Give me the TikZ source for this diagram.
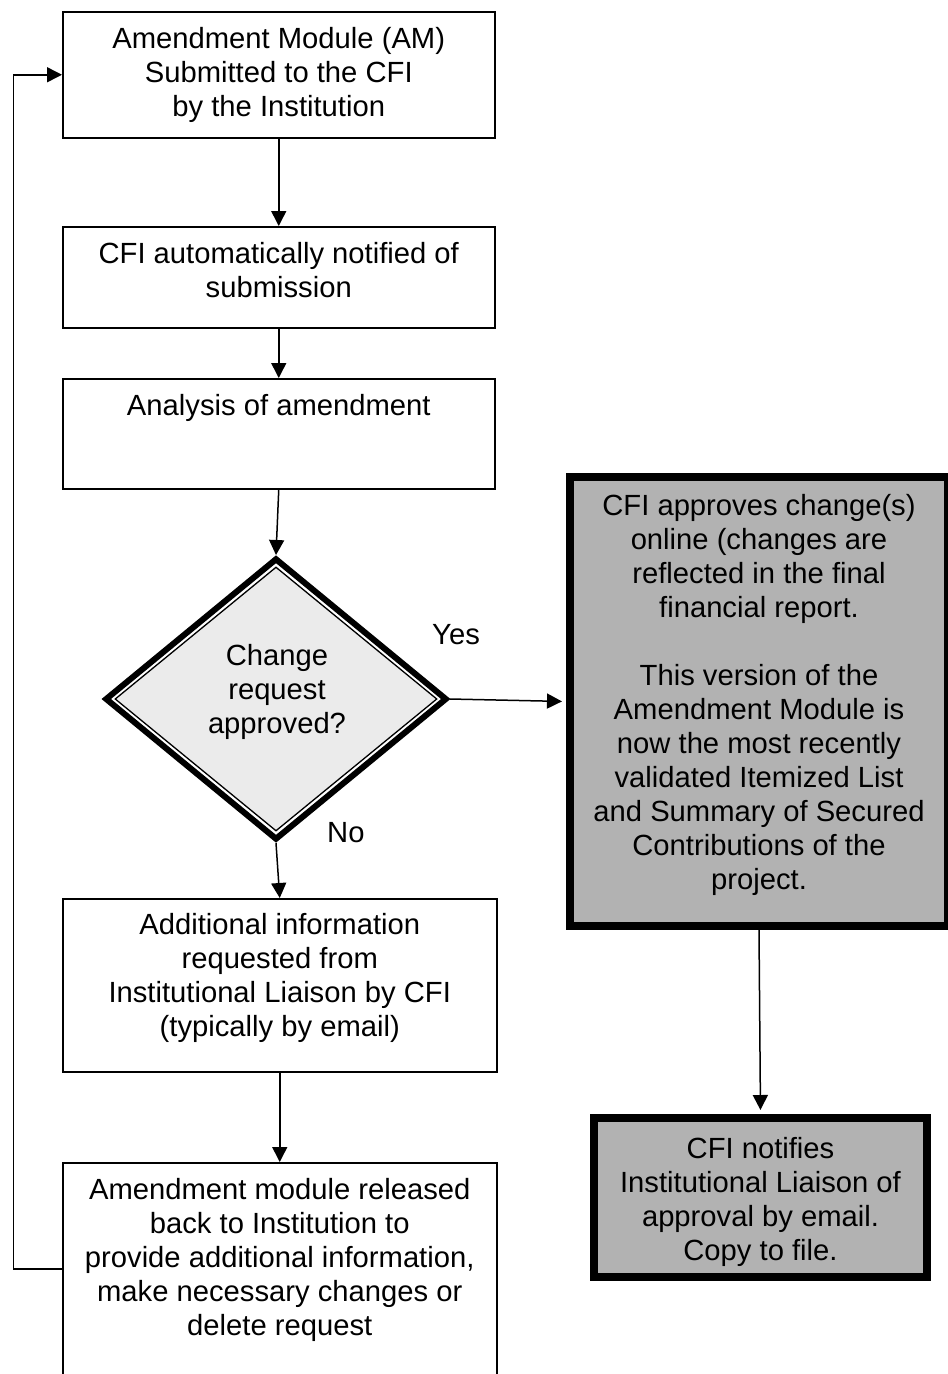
\documentclass[tikz,border=0pt]{standalone}
\usepackage{fontspec}
\setmainfont{Liberation Sans}
\usetikzlibrary{arrows.meta,shapes.geometric,calc}
\definecolor{dfill}{HTML}{EBEBEB}
\definecolor{bgray}{HTML}{B2B2B2}
\newcommand{\bxt}[4]{\parbox[c][#1][t]{#2}{\centering\rule{0pt}{#3}#4\par}}
\begin{document}
\begin{tikzpicture}[x=1pt,y=-1pt,
  txt/.style={font=\fontsize{29.2pt}{34pt}\selectfont, inner sep=0pt},
  box/.style={txt, draw, line width=1.5pt, anchor=north west},
  gbox/.style={txt, draw, line width=8pt, fill=bgray, anchor=north west},
  arr/.style={line width=1.5pt, -{Triangle[length=15pt,width=15pt]}},
  lbl/.style={txt, anchor=base west},
]
\useasboundingbox (0,0) rectangle (948,1374);
\clip (0,0) rectangle (948,1374);

% left column boxes
\node[box] (b1) at (62,11) {\bxt{126pt}{432pt}{37pt}{Amendment Module (AM)\\Submitted to the CFI\\by the Institution}};
\node[box] (b2) at (62,226) {\bxt{101pt}{432pt}{37pt}{CFI automatically notified of\\submission}};
\node[box] (b3) at (62,378) {\bxt{110pt}{432pt}{37pt}{Analysis of amendment}};

% decision diamond
\node[diamond, draw, line width=6pt, fill=white, minimum width=342pt, minimum height=282pt, inner sep=0pt] (dec) at (276,699) {};
\node[diamond, draw, line width=1.3pt, fill=dfill, minimum width=322pt, minimum height=264pt, inner sep=0pt] (deci) at (dec.center) {};
\node[txt, align=center] (dect) at (277,692) {Change\\request\\approved?};

\node[box] (b4) at (62,898) {\bxt{173pt}{434pt}{36pt}{Additional information\\requested from\\Institutional Liaison by CFI\\(typically by email)}};
\node[box] (b5) at (62,1162) {\bxt{230pt}{434pt}{37pt}{Amendment module released\\back to Institution to\\provide additional information,\\make necessary changes or\\delete request}};

% right column boxes
\node[gbox] (gb) at (566,473) {\bxt{449pt}{378pt}{38pt}{CFI approves change(s)\\online (changes are\\reflected in the final\\financial report.\\[34pt]This version of the\\Amendment Module is\\now the most recently\\validated Itemized List\\and Summary of Secured\\Contributions of the\\project.}};
\node[gbox] (sb) at (590,1114) {\bxt{159pt}{333pt}{40pt}{CFI notifies\\Institutional Liaison of\\approval by email.\\Copy to file.}};

% labels
\node[lbl] (yes) at (432,644) {Yes};
\node[lbl] (no) at (327,842) {No};

% connectors
\draw[arr] (b1.south) -- (b2.north);
\draw[arr] (b2.south) -- (b3.north);
\draw[arr] (b3.south) -- (dec.north);
\draw[arr, shorten >=4pt] (dec.east) -- (gb.west);
\draw[arr] (dec.south) -- (b4.north);
\draw[arr] (b4.south) -- (b5.north);
\draw[arr, shorten >=4pt] (gb.south) -- (sb.north);
\draw[arr] ($(b5.north west)+(0,107)$) -- ++(-48.5,0) |- (b1.west);
\end{tikzpicture}
\end{document}
